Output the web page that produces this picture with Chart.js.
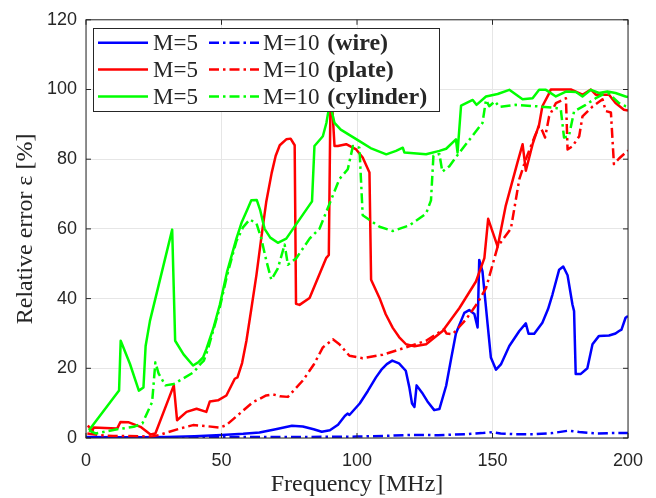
<!DOCTYPE html>
<html>
<head>
<meta charset="utf-8">
<script src="https://cdn.jsdelivr.net/npm/chart.js@4"></script>
<style>
  html, body { margin: 0; padding: 0; background: #fff; }
</style>
</head>
<body>
<canvas id="chart" width="656" height="498"></canvas>
<script>
// x ticks / y ticks
const xTicks = [0, 50, 100, 150, 200]
const yTicks = [0, 20, 40, 60, 80, 100, 120]

// wire, M=5
const wireM5Freq = [0, 10, 20, 30, 40, 50, 58, 64, 70, 76, 80, 84, 87, 90, 93, 95.5, 96.5, 97.2, 101, 104, 107, 109, 111, 113, 115.5, 118, 119.3, 120.3, 121.2, 122, 124, 126, 128.5, 130.4, 132.9, 134.8, 136.5, 139.6, 141.4, 143.3, 144.5, 145.1, 146.3, 148.2, 149.4, 151.3, 153.1, 156.2, 159.9, 162.3, 163.3, 165.4, 168.4, 170.5, 172.1, 174.6, 176.1, 177.7, 179.5, 180.1, 180.7, 182.6, 185, 186.9, 189.3, 193, 195.4, 196.7, 197.6, 199.1, 200]
const wireM5Err = [0.3, 0.2, 0.2, 0.3, 0.5, 0.85, 1.2, 1.6, 2.5, 3.5, 3.3, 2.5, 1.8, 2.2, 3.8, 6.3, 7, 6.6, 9.9, 13.5, 17.4, 19.6, 21.2, 22.2, 21.4, 19.3, 14.6, 9.9, 8.9, 15.1, 13, 10.5, 8, 8.3, 15, 23, 30, 35.9, 36.7, 35.6, 31.7, 51.1, 47.8, 32.6, 23.1, 19.6, 21.1, 26.4, 30.7, 32.9, 29.9, 29.9, 33.1, 37, 41.1, 48.3, 49.2, 46.7, 38.3, 36.4, 18.4, 18.4, 20, 26.9, 29.3, 29.4, 30, 30.7, 31.1, 34.5, 35]

// wire, M=10
const wireM10Freq = [0, 20, 40, 60, 80, 100, 110, 120, 130, 140, 146, 150, 153, 158, 165, 172, 178, 182, 188, 194, 200]
const wireM10Err = [0.2, 0.1, 0.2, 0.3, 0.3, 0.4, 0.6, 0.9, 0.8, 1.1, 1.4, 1.7, 1.3, 1.1, 1.1, 1.4, 2.1, 1.7, 1.3, 1.4, 1.4]

// plate, M=5
const plateM5Freq = [0.6, 1.1, 2.3, 2.8, 7, 11.5, 12.7, 15.8, 20.1, 23.8, 25.6, 32.4, 33.6, 37.1, 40.8, 44.4, 45.7, 48.7, 51.8, 54.9, 55.9, 57.6, 59.2, 61, 62.9, 64.7, 66.5, 68.5, 70, 71.5, 73.9, 75.5, 77, 77.5, 78.8, 82.5, 88.6, 89.6, 90.2, 90.8, 91.7, 92.9, 96, 99.7, 102.1, 104.6, 105.2, 108.3, 110.6, 113.2, 115.6, 118.1, 121.2, 125.5, 131.6, 137.8, 143.9, 147, 148.4, 151.9, 154.9, 159.2, 161.1, 162.3, 164.8, 167.2, 168.4, 170.9, 171.5, 178.9, 183.2, 186.3, 188.1, 193, 195.4, 198.5, 200]
const plateM5Err = [3.5, 3.2, 1.8, 3, 2.9, 2.7, 4.6, 4.5, 3.2, 1, 1.3, 15.1, 5.1, 7.5, 8.4, 7.5, 10.5, 10.8, 12.2, 17, 17.4, 21.5, 27.9, 37, 46.8, 57.5, 67.7, 76, 81, 84, 85.7, 85.9, 84, 38.5, 38.2, 40.2, 51.6, 52.5, 96, 96, 83.8, 83.8, 84.3, 82.8, 80.5, 76.2, 45.4, 40.2, 35.5, 31.6, 28.9, 26.9, 26.3, 26.9, 30.7, 37.3, 44.9, 51.6, 62.9, 54.9, 66.7, 79, 84.3, 76.7, 84.3, 89.9, 95.2, 98.9, 100, 100, 98.5, 100, 98.5, 98.5, 96.1, 94.2, 94]

// plate, M=10
const plateM10Freq = [0.5, 5, 10, 15, 20, 24, 27.3, 30, 34.6, 39.5, 44.4, 49.4, 51.8, 56.7, 61.6, 66.5, 69, 71.5, 74.5, 80, 84, 87.4, 91.1, 93.5, 97.2, 102.1, 109.5, 118.1, 125.5, 129.2, 132.1, 133, 135.3, 140.2, 144.5, 147.6, 151.9, 156.8, 159.9, 162.3, 165.4, 167.2, 168.4, 169.4, 170.9, 173.4, 177.1, 177.7, 179.5, 182, 183.2, 186.9, 190.6, 191.8, 193.7, 194.8, 196.7, 199.1, 200]
const plateM10Err = [1.3, 0.8, 0.6, 0.6, 0.5, 0.4, 0.9, 1.6, 2.7, 3.7, 3.4, 3, 3.7, 7, 10.3, 12.2, 12.5, 12, 11.8, 16.5, 21, 26, 28.3, 26.9, 23.6, 22.9, 23.9, 26, 27.9, 29.8, 31.2, 30, 29.8, 34, 38.8, 43, 54.9, 60.1, 74.3, 80, 86.2, 89.5, 88.1, 86.2, 92.3, 96.1, 97.5, 82.8, 83.7, 86.6, 92.3, 95.1, 97.2, 93.8, 93.4, 78.6, 80.2, 81.9, 82.5]

// cylinder, M=5
const cylM5Freq = [1.1, 12.2, 12.8, 16.2, 19.5, 21.2, 22, 23.6, 31.8, 32.9, 36, 39.5, 41.4, 43.2, 44.4, 47, 49.4, 52, 55.5, 57.5, 59.5, 61, 63, 64.3, 65.9, 68, 70.8, 73.9, 83.4, 84.3, 87.4, 88.7, 89.5, 90.3, 91.7, 94, 100.9, 105, 110.8, 114.4, 116.9, 117.5, 125.5, 130.4, 132.9, 136.5, 137.1, 138.4, 142.7, 144.1, 147.6, 151.9, 156.2, 161.1, 164.8, 167.2, 169.7, 173.4, 177.1, 180.8, 183.2, 186.3, 189.3, 192.4, 195.4, 199.1, 200]
const cylM5Err = [2.2, 13.6, 27.9, 21.3, 13.6, 14.5, 26.4, 33.6, 59.8, 27.9, 24, 20.8, 21.7, 23.1, 25.5, 31.5, 38.3, 47.5, 57.2, 62, 65.5, 68.2, 68.3, 65.3, 60, 57.5, 56, 57.2, 67.9, 83.8, 86.6, 90.4, 94, 95, 90.4, 88.5, 85.2, 83.2, 81.4, 82.4, 83.3, 81.9, 81.4, 82.4, 83, 85.7, 81.9, 95.4, 97, 95.6, 98, 98.7, 99.9, 97.2, 97.5, 99.9, 99.9, 98, 99.4, 99.3, 98, 99.9, 99, 99.4, 99, 98, 97.8]

// cylinder, M=10
const cylM10Freq = [1.1, 3.5, 11.5, 17.6, 20.8, 24.4, 25.6, 26.8, 29.3, 32.4, 39.8, 42.2, 43.5, 45, 47, 49.4, 52, 55.5, 58, 60.4, 62.9, 64.7, 66.5, 68.4, 70.8, 73.3, 74.5, 77.6, 82.5, 86.2, 93.5, 96.6, 98.5, 100.9, 102.1, 108.3, 113.2, 119.3, 125.5, 127.3, 128.2, 130.4, 131.5, 134.1, 137.4, 146.3, 147.6, 148.8, 150.9, 152.5, 158.6, 166, 173.4, 175.2, 176.4, 178.2, 180.1, 184.4, 188.1, 190.6, 193, 196.7, 199.1, 200]
const cylM10Err = [2.2, 1.3, 2.5, 3.2, 4.2, 10.3, 21.7, 18.5, 15.1, 15.5, 18.9, 21.2, 22.2, 25.5, 31, 37.5, 46.5, 56.5, 60.5, 62.7, 61.6, 57.2, 51, 45.4, 48.7, 55.5, 49.7, 51.6, 57.2, 60.1, 74.3, 77.1, 83.8, 83.3, 63.9, 60.6, 59.4, 61, 64.4, 68.2, 81, 81.5, 76.4, 78, 81.5, 90.4, 97, 95.2, 96.6, 95, 95.6, 95.2, 94.7, 94.3, 86.2, 86.6, 93.7, 95.6, 97.5, 98.5, 98.8, 96.1, 95.2, 95]

// legend texts (column-major, like matlab)
const legendM5 = ['M=5', 'M=5', 'M=5']
const legendM10 = ['M=10 ', 'M=10 ', 'M=10 ']
const legendBody = ['(wire)', '(plate)', '(cylinder)']

const BLUE = '#0000ff'
const RED = '#ff0000'
const GREEN = '#00ff00'
const DASHDOT = [10, 4, 2.5, 4]
const colors = [BLUE, RED, GREEN]

function pts(fs, vs) {
    return fs.map((f, i) => ({ x: f, y: vs[i] }))
}

// order = drawing order, last plotted ends up on top
const datasets = [
    { label: 'M=5 (wire)', data: pts(wireM5Freq, wireM5Err), borderColor: BLUE, borderDash: [], order: 5 },
    { label: 'M=5 (plate)', data: pts(plateM5Freq, plateM5Err), borderColor: RED, borderDash: [], order: 4 },
    { label: 'M=5 (cylinder)', data: pts(cylM5Freq, cylM5Err), borderColor: GREEN, borderDash: [], order: 3 },
    { label: 'M=10 (wire)', data: pts(wireM10Freq, wireM10Err), borderColor: BLUE, borderDash: DASHDOT, order: 2 },
    { label: 'M=10 (plate)', data: pts(plateM10Freq, plateM10Err), borderColor: RED, borderDash: DASHDOT, order: 1 },
    { label: 'M=10 (cylinder)', data: pts(cylM10Freq, cylM10Err), borderColor: GREEN, borderDash: DASHDOT, order: 0 },
].map(d => Object.assign(d, {
    borderWidth: 2.5,
    pointRadius: 0,
    fill: false,
    tension: 0,
    borderJoinStyle: 'round',
}))

// box + inward ticks
const framePlugin = {
    id: 'frame',
    afterDatasetsDraw(chart) {
        const { ctx, chartArea: a, scales } = chart
        ctx.save()
        ctx.strokeStyle = '#262626'
        ctx.lineWidth = 1
        ctx.strokeRect(a.left, a.top, a.right - a.left, a.bottom - a.top)
        const tl = 5
        ctx.beginPath()
        xTicks.forEach(t => {
            const px = scales.x.getPixelForValue(t)
            ctx.moveTo(px, a.bottom); ctx.lineTo(px, a.bottom - tl)
            ctx.moveTo(px, a.top); ctx.lineTo(px, a.top + tl)
        })
        yTicks.forEach(t => {
            const py = scales.y.getPixelForValue(t)
            ctx.moveTo(a.left, py); ctx.lineTo(a.left + tl, py)
            ctx.moveTo(a.right, py); ctx.lineTo(a.right - tl, py)
        })
        ctx.stroke()
        ctx.restore()
    }
}

// legend drawn inside the axes, 3 rows x 2 columns
const legendPlugin = {
    id: 'insideLegend',
    afterDraw(chart) {
        const ctx = chart.ctx
        const box = { x: 93.5, y: 28.5, w: 346, h: 83 }
        const rows = [42.7, 69.5, 96.5]
        ctx.save()
        ctx.fillStyle = '#fff'
        ctx.fillRect(box.x, box.y, box.w, box.h)
        ctx.strokeStyle = '#262626'
        ctx.lineWidth = 1
        ctx.strokeRect(box.x, box.y, box.w, box.h)

        ctx.textBaseline = 'middle'
        ctx.fillStyle = '#262626'
        const reg = '23px "Liberation Serif"'
        const bold = 'bold 24px "Liberation Serif"'
        rows.forEach((y, i) => {
            ctx.lineWidth = 2.5
            ctx.strokeStyle = colors[i]
            ctx.setLineDash([])
            ctx.beginPath(); ctx.moveTo(98, y); ctx.lineTo(148, y); ctx.stroke()
            ctx.setLineDash(DASHDOT)
            ctx.beginPath(); ctx.moveTo(209, y); ctx.lineTo(259, y); ctx.stroke()

            ctx.font = reg
            ctx.fillText(legendM5[i], 153, y + 1)
            ctx.fillText(legendM10[i], 263, y + 1)
            const w = ctx.measureText(legendM10[i]).width
            ctx.font = bold
            ctx.fillText(legendBody[i], 263 + w + 2, y + 1)
        })
        ctx.restore()
    }
}

const ctx = document.getElementById('chart').getContext('2d')
const myChart = new Chart(ctx, {
    type: 'line',
    data: { datasets },
    options: {
        responsive: false,
        animation: false,
        devicePixelRatio: 1,
        layout: { padding: { top: 16, right: 28, left: 0, bottom: 0 } },
        plugins: {
            legend: { display: false },
            tooltip: { enabled: false },
        },
        scales: {
            x: {
                type: 'linear',
                min: 0,
                max: 200,
                afterFit: s => { s.height = 60 },
                afterBuildTicks: s => { s.ticks = xTicks.map(v => ({ value: v })) },
                grid: { color: '#e6e6e6', drawTicks: false },
                border: { display: false },
                ticks: {
                    padding: 12,
                    color: '#262626',
                    font: { family: 'Liberation Sans', size: 18 },
                },
                title: {
                    display: true,
                    text: 'Frequency [MHz]',
                    color: '#262626',
                    font: { family: 'Liberation Serif', size: 24, lineHeight: 1 },
                    padding: { top: 0, bottom: 1 },
                },
            },
            y: {
                min: 0,
                max: 120,
                afterFit: s => { s.width = 86 },
                afterBuildTicks: s => { s.ticks = yTicks.map(v => ({ value: v })) },
                grid: { color: '#e6e6e6', drawTicks: false },
                border: { display: false },
                ticks: {
                    padding: 9,
                    color: '#262626',
                    font: { family: 'Liberation Sans', size: 18 },
                },
                title: {
                    display: true,
                    text: 'Relative error ε [%]',
                    color: '#262626',
                    font: { family: 'Liberation Serif', size: 24, lineHeight: 1 },
                    padding: { top: 14, bottom: 0 },
                },
            },
        },
    },
    plugins: [framePlugin, legendPlugin],
})
</script>
</body>
</html>
